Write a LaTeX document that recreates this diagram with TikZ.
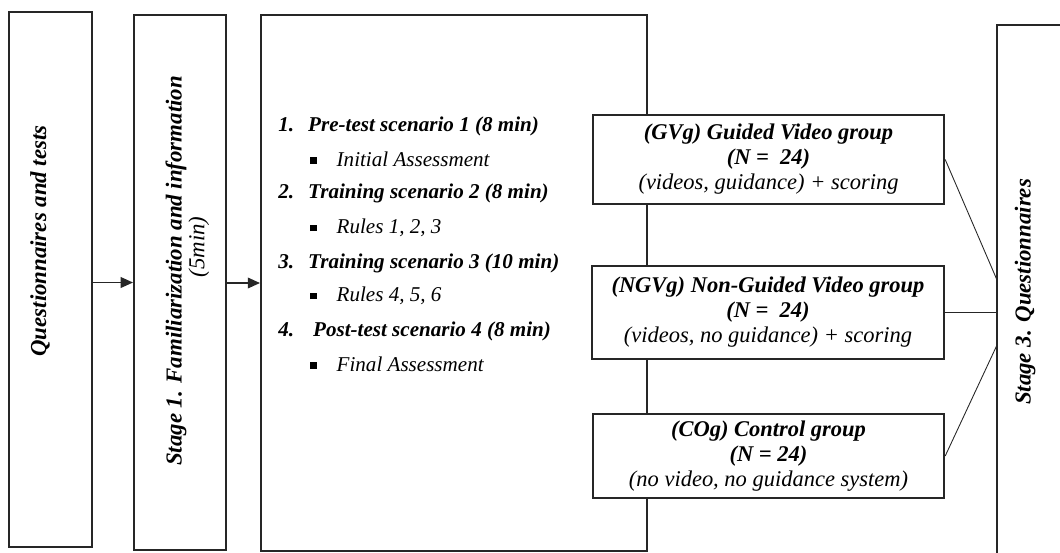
\documentclass[tikz,border=0pt]{standalone}
\usepackage{fontspec}
\setmainfont{Liberation Serif}
\usetikzlibrary{positioning, calc, arrows.meta}

\begin{document}
\begin{tikzpicture}[x=0.02cm, y=-0.02cm]
    \tikzset{StageBox/.style = {draw=black!85, line width=1.1pt, fill=white, inner sep=0pt}}
    \tikzset{GroupBox/.style = {StageBox, minimum width=7.03cm, align=center, font=\fontsize{12.8}{14.2}\selectfont\itshape}}
    \tikzset{VText/.style = {rotate=90, inner sep=0pt, font=\fontsize{13}{15}\selectfont\bfseries\itshape}}
    \tikzset{ItemText/.style = {anchor=west, inner sep=0pt, font=\fontsize{12}{14}\selectfont\bfseries\itshape}}
    \tikzset{SubText/.style = {anchor=west, inner sep=0pt, font=\fontsize{12}{14}\selectfont\itshape}}
    \tikzset{EdgeStyle/.style = {line width=1.1pt, draw=black!85, -{Triangle[length=7pt, width=6pt]}}}
    \tikzset{EdgeStyleThin/.style = {line width=0.5pt, draw=black!85}}
    \clip (0,0) rectangle (1060,552);
    % stages
    \node[StageBox, minimum width=1.66cm, minimum height=10.7cm] (qt) at (50.5, 279.5) {};
    \node[StageBox, minimum width=1.84cm, minimum height=10.7cm] (st1) at (180, 282.5) {};
    \node[StageBox, minimum width=7.72cm, minimum height=10.72cm] (tr) at (454, 283) {};
    \node[StageBox, minimum width=2.26cm, minimum height=11.9cm] (st3) at (1053.5, 322.5) {};
    \node[VText] (qtl) at (40, 241) {Questionnaires and tests};
    \node[VText] (st1l) at (176, 271) {Stage 1. Familiarization and information};
    \node[VText, font=\fontsize{13}{15}\selectfont\itshape] (st1t) at (199, 247) {(5min)};
    \node[VText] (st3l) at (1025, 292) {Stage 3. Questionnaires};
    % scenarios
    \node[ItemText] (sc1) at (278, 126) {\makebox[17pt][l]{1.}Pre-test scenario 1 (8 min)};
    \node[SubText] (sb1) at (310, 159) {\makebox[15pt][l]{\rule[1.5pt]{3.6pt}{3.6pt}}Initial Assessment};
    \node[ItemText] (sc2) at (278, 193) {\makebox[17pt][l]{2.}Training scenario 2 (8 min)};
    \node[SubText] (sb2) at (310, 228) {\makebox[15pt][l]{\rule[1.5pt]{3.6pt}{3.6pt}}Rules 1, 2, 3};
    \node[ItemText] (sc3) at (278, 263) {\makebox[17pt][l]{3.}Training scenario 3 (10 min)};
    \node[SubText] (sb3) at (310, 296) {\makebox[15pt][l]{\rule[1.5pt]{3.6pt}{3.6pt}}Rules 4, 5, 6};
    \node[ItemText] (sc4) at (278, 331) {\makebox[19.8pt][l]{4.}Post-test scenario 4 (8 min)};
    \node[SubText] (sb4) at (310, 364) {\makebox[15pt][l]{\rule[1.5pt]{3.6pt}{3.6pt}}Final Assessment};
    % groups
    \node[GroupBox, minimum height=1.78cm] (gvg) at (768.5, 159.5) {{\bfseries (GVg) Guided Video group}\\{\bfseries (N =\ \ 24)}\\(videos, guidance) + scoring};
    \node[GroupBox, minimum height=1.86cm] (ngvg) at (768, 312.5) {{\bfseries (NGVg) Non-Guided Video group}\\{\bfseries (N =\ \ 24)}\\(videos, no guidance) + scoring};
    \node[GroupBox, minimum height=1.68cm] (cog) at (768.5, 456) {{\bfseries (COg) Control group}\\{\bfseries (N = 24)}\\(no video, no guidance system)};
    % connectors
    \draw[EdgeStyle] (st1.west -| qt.east) -- (st1.west);
    \draw[EdgeStyle] (tr.west -| st1.east) -- (tr.west);
    \coordinate (in1) at (997, 280);
    \coordinate (in3) at (997, 345);
    \draw[EdgeStyleThin] (gvg.east) -- (in1);
    \draw[line width=1.1pt, draw=black!85] (ngvg.east) -- (ngvg.east -| st3.west);
    \draw[EdgeStyleThin] (cog.east) -- (in3);
\end{tikzpicture}
\end{document}
